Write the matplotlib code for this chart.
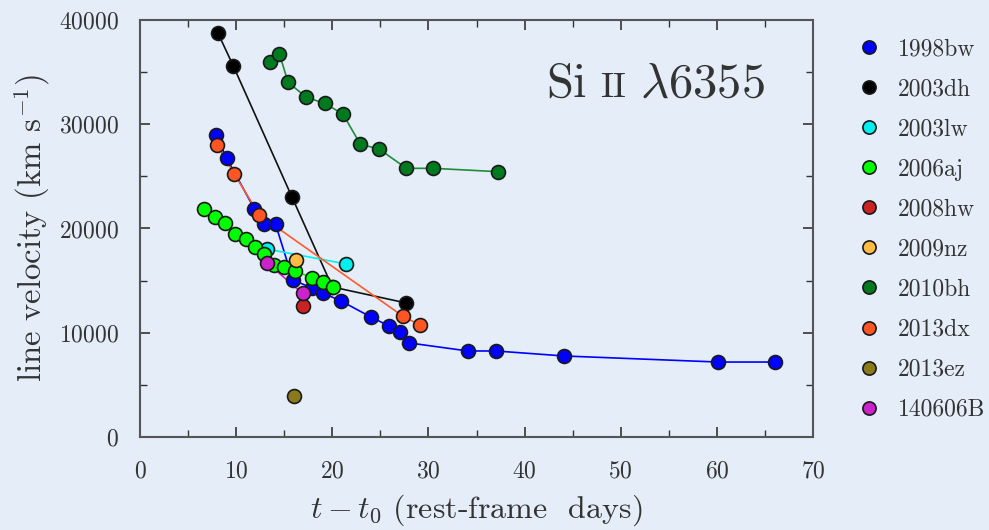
import matplotlib
matplotlib.use("Agg")
import matplotlib.pyplot as plt
from matplotlib.lines import Line2D
from matplotlib.offsetbox import TextArea, HPacker, AnnotationBbox
from matplotlib.ticker import MultipleLocator

plt.rcParams["font.family"] = "serif"
plt.rcParams["font.serif"] = ["cmr10"]
plt.rcParams["mathtext.fontset"] = "cm"
plt.rcParams["axes.formatter.use_mathtext"] = True

# days since t0, line velocity in km/s
sn1998bw_t = [7.9, 9.0, 11.9, 12.9, 14.1, 15.9, 17.9, 19.0, 20.9, 24.0, 25.9, 27.0, 28.0, 34.1, 37.0, 44.1, 60.1, 66.0]
sn1998bw_v = [28970, 26760, 21870, 20400, 20400, 15060, 14290, 13810, 13050, 11510, 10650, 10070, 9020, 8250, 8250, 7770, 7190, 7190]

sn2003dh_t = [8.1, 9.7, 15.8, 20.0, 27.7]
sn2003dh_v = [38750, 35590, 23020, 14390, 12850]

sn2003lw_t = [13.2, 21.4]
sn2003lw_v = [18030, 16600]

sn2006aj_t = [6.7, 7.8, 8.8, 9.9, 11.0, 12.0, 12.9, 13.9, 15.0, 16.1, 17.9, 19.0, 20.1]
sn2006aj_v = [21840, 21130, 20500, 19440, 18960, 18250, 17550, 16500, 16330, 15920, 15280, 14840, 14420]

sn2008hw_t = [16.9]
sn2008hw_v = [12570]

sn2009nz_t = [16.2]
sn2009nz_v = [16980]

sn2010bh_t = [13.5, 14.5, 15.4, 17.3, 19.2, 21.1, 22.9, 24.9, 27.7, 30.5, 37.2]
sn2010bh_v = [36000, 36740, 34020, 32580, 32000, 30980, 28100, 27600, 25770, 25770, 25450]

sn2013dx_t = [8.0, 9.8, 12.4, 27.3, 29.1]
sn2013dx_v = [28010, 25230, 21300, 11610, 10740]

sn2013ez_t = [16.0]
sn2013ez_v = [3960]

grb140606b_t = [13.2, 16.9]
grb140606b_v = [16720, 13780]

labels = ["1998bw", "2003dh", "2003lw", "2006aj", "2008hw", "2009nz", "2010bh", "2013dx", "2013ez", "140606B"]
face_colors = ["#0000ff", "#000000", "#00f0f0", "#00ff00", "#cc2222", "#ffbb44", "#007a1f", "#ff5522", "#8b7a1a", "#cc22cc"]
line_colors = ["#0000ff", "#111111", "#00f0f0", "#00ee00", "#cc2222", "#ffbb44", "#1f8c3a", "#ff5a2a", "#8b7a1a", "#cc22cc"]

series = [
    (sn1998bw_t, sn1998bw_v),
    (sn2003dh_t, sn2003dh_v),
    (sn2003lw_t, sn2003lw_v),
    (sn2006aj_t, sn2006aj_v),
    (sn2008hw_t, sn2008hw_v),
    (sn2009nz_t, sn2009nz_v),
    (sn2010bh_t, sn2010bh_v),
    (sn2013dx_t, sn2013dx_v),
    (sn2013ez_t, sn2013ez_v),
    (grb140606b_t, grb140606b_v),
]

bg = "#e4edf8"
fig = plt.figure(figsize=(9.89, 5.30), dpi=100, facecolor=bg)
ax = fig.add_axes([0.1416, 0.1755, 0.6805, 0.7868], facecolor=bg)

for (t, v), fc, lc in zip(series, face_colors, line_colors):
    ax.plot(t, v, "-", color=lc, lw=1.2, zorder=2)
    ax.plot(t, v, "o", ms=10, mfc=fc, mec="#1a1a1a", mew=1.2, ls="none", zorder=3)

ax.set_xlim(0, 70)
ax.set_ylim(0, 40000)
ax.xaxis.set_major_locator(MultipleLocator(10))
ax.xaxis.set_minor_locator(MultipleLocator(5))
ax.yaxis.set_major_locator(MultipleLocator(10000))
ax.yaxis.set_minor_locator(MultipleLocator(5000))
ax.tick_params(which="both", direction="in", top=True, right=True, color="#333333", labelsize=17, labelcolor="#333333")
ax.tick_params(which="major", length=7, width=1.2)
ax.tick_params(which="minor", length=5, width=1.0)
ax.tick_params(axis="x", which="major", pad=17)
ax.tick_params(axis="y", which="major", pad=15)
for s in ax.spines.values():
    s.set_color("#555555")
    s.set_linewidth(1.5)

ax.set_xlabel(r"$t - t_0$ (rest-frame  days)", fontsize=23, color="#333333", labelpad=7)
ax.set_ylabel(r"line velocity (km s$^{-1}$)", fontsize=23.5, color="#333333", labelpad=5)

# "Si II lambda6355" with small-cap II
tag = HPacker(children=[
    TextArea("Si", textprops=dict(size=35, color="#333333")),
    TextArea("II", textprops=dict(size=26, color="#333333")),
    TextArea(r"$\lambda$6355", textprops=dict(size=35, color="#333333")),
], align="baseline", pad=0, sep=10)
ax.add_artist(AnnotationBbox(tag, (0.766, 0.845), xycoords="axes fraction", frameon=False))

handles = [Line2D([], [], ls="none", marker="o", ms=9.5, mfc=fc, mec="#1a1a1a", mew=1.2) for fc in face_colors]
fig.legend(handles, labels, loc="upper left", bbox_to_anchor=(0.845, 0.968), frameon=False,
           fontsize=17, labelspacing=0.76, handlelength=1.0, handletextpad=0.75, labelcolor="#333333")

fig.savefig("out.png", dpi=100, facecolor=bg)
